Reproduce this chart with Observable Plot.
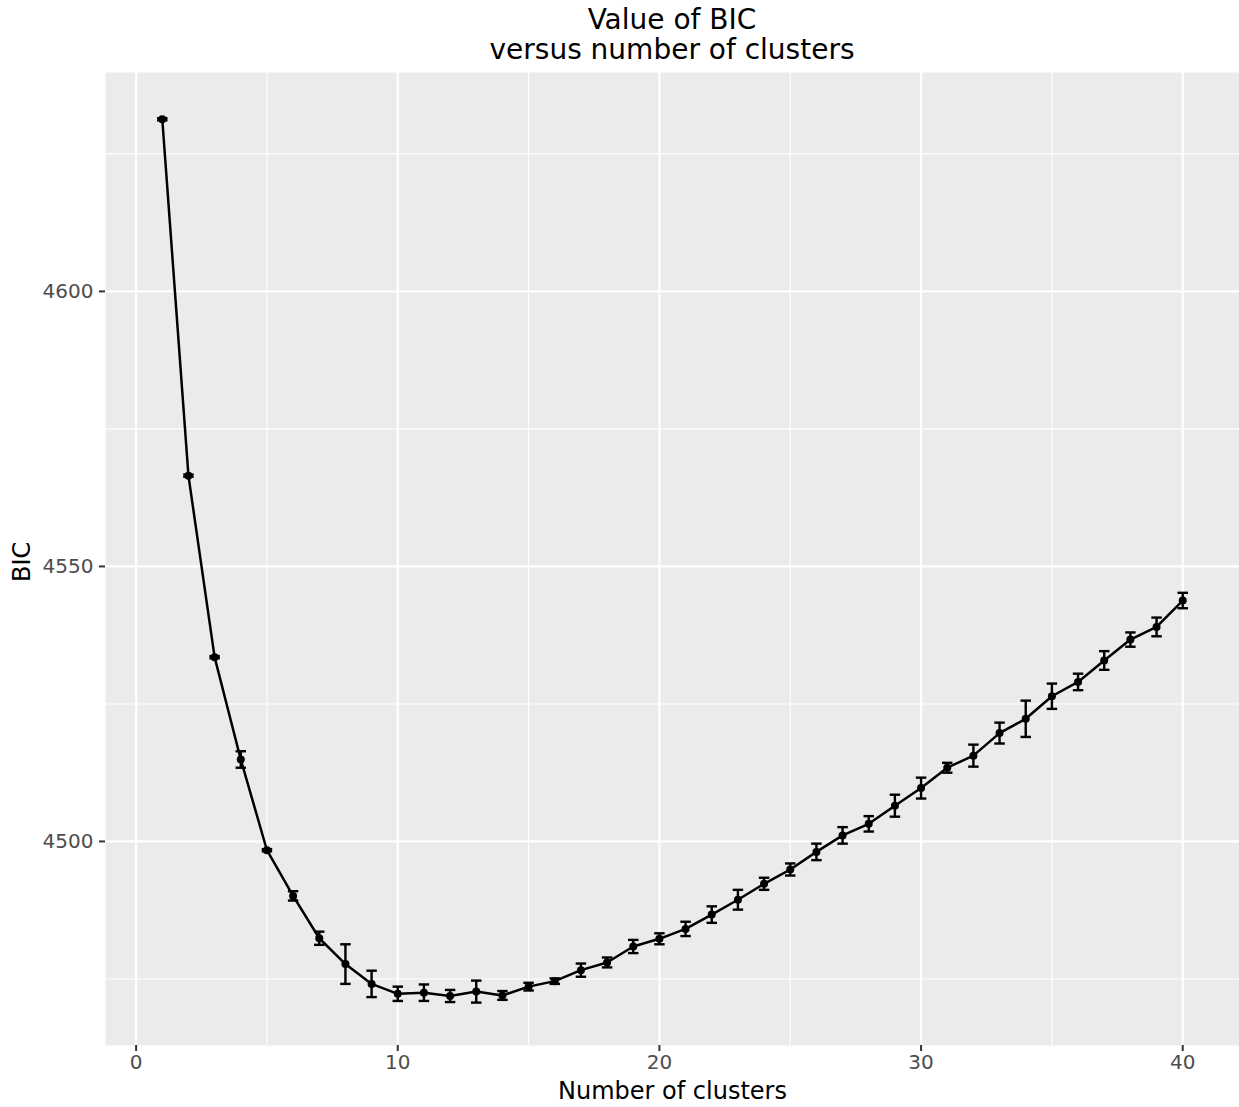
<!DOCTYPE html>
<html>
<head>
<meta charset="utf-8">
<script src="https://cdn.jsdelivr.net/npm/d3@7"></script>
<script src="https://cdn.jsdelivr.net/npm/@observablehq/plot@0.6"></script>
<style>
  html, body { margin: 0; padding: 0; background: #fff; }
  #title {
    box-sizing: border-box;
    width: 1239px; height: 66px;
    padding: 5px 0 0 105px;
    font-family: "DejaVu Sans", sans-serif;
    font-size: 28px; line-height: 30px;
    text-align: center; color: #000;
  }
  #chart svg { display: block; }
</style>
</head>
<body>
<div id="title">Value of BIC<br>versus number of clusters</div>
<div id="chart"></div>
<script>
// Number of clusters tried
const clusters = d3.range(1, 41);
// Mean BIC for each number of clusters
const bic = [4631.3, 4566.5, 4533.5, 4514.9, 4498.4, 4490.1, 4482.4, 4477.7, 4474.1, 4472.3,
             4472.5, 4471.9, 4472.7, 4472.0, 4473.6, 4474.6, 4476.6, 4478.0, 4480.9, 4482.3,
             4484.1, 4486.7, 4489.4, 4492.3, 4494.9, 4498.1, 4501.1, 4503.2, 4506.5, 4509.7,
             4513.4, 4515.6, 4519.7, 4522.3, 4526.4, 4529.0, 4532.9, 4536.7, 4539.0, 4543.8];
// Half-width of the error bar around each mean
const err = [0.2, 0.2, 0.2, 1.5, 0.2, 0.85, 1.2, 3.6, 2.4, 1.3,
             1.5, 1.1, 2.0, 0.8, 0.7, 0.5, 1.2, 0.9, 1.2, 1.0,
             1.3, 1.5, 1.8, 1.1, 1.1, 1.5, 1.5, 1.4, 2.0, 1.9,
             0.9, 2.0, 1.9, 3.3, 2.3, 1.5, 1.7, 1.3, 1.7, 1.4];
// Axis ticks
const xMajor = [0, 10, 20, 30, 40];
const xMinor = [5, 15, 25, 35];
const yMajor = [4500, 4550, 4600];
const yMinor = [4475, 4525, 4575, 4625];

const capHalf = 0.2;
const data = clusters.map((k, i) => ({k, bic: bic[i], lo: bic[i] - err[i], hi: bic[i] + err[i]}));

const chart = Plot.plot({
  width: 1239,
  height: 1041,
  marginTop: 6,
  marginBottom: 62,
  marginLeft: 105,
  marginRight: 0,
  style: {fontFamily: "DejaVu Sans, sans-serif", background: "#fff", overflow: "visible"},
  x: {domain: [-1.17, 42.17]},
  y: {domain: [4462.9, 4639.8]},
  marks: [
    Plot.frame({fill: "#ebebeb", stroke: null}),
    Plot.ruleX(xMinor, {stroke: "#fff", strokeWidth: 1.1}),
    Plot.ruleY(yMinor, {stroke: "#fff", strokeWidth: 1.1}),
    Plot.ruleX(xMajor, {stroke: "#fff", strokeWidth: 2.2}),
    Plot.ruleY(yMajor, {stroke: "#fff", strokeWidth: 2.2}),
    Plot.axisX({ticks: xMajor, tickSize: 6, tickPadding: 3, fontSize: 20, stroke: "#333", strokeWidth: 2, fill: "#4d4d4d", label: null}),
    Plot.axisY({ticks: yMajor, tickSize: 6, tickPadding: 6, fontSize: 20, stroke: "#333", strokeWidth: 2, fill: "#4d4d4d", tickFormat: d => String(d), label: null}),
    // error bars: stems and caps
    Plot.link(data, {x1: "k", x2: "k", y1: "lo", y2: "hi", stroke: "#000", strokeWidth: 2.4}),
    Plot.link(data, {x1: d => d.k - capHalf, x2: d => d.k + capHalf, y1: "lo", y2: "lo", stroke: "#000", strokeWidth: 2.4}),
    Plot.link(data, {x1: d => d.k - capHalf, x2: d => d.k + capHalf, y1: "hi", y2: "hi", stroke: "#000", strokeWidth: 2.4}),
    Plot.line(data, {x: "k", y: "bic", stroke: "#000", strokeWidth: 2.5}),
    Plot.dot(data, {x: "k", y: "bic", r: 4, fill: "#000", stroke: null}),
    Plot.text(["Number of clusters"], {frameAnchor: "bottom", dy: 53, fontSize: 24, fill: "#000"}),
    Plot.text(["BIC"], {frameAnchor: "left", dx: -83, dy: 23, rotate: -90, fontSize: 24, fill: "#000"})
  ]
});
document.getElementById("chart").appendChild(chart);
</script>
</body>
</html>
